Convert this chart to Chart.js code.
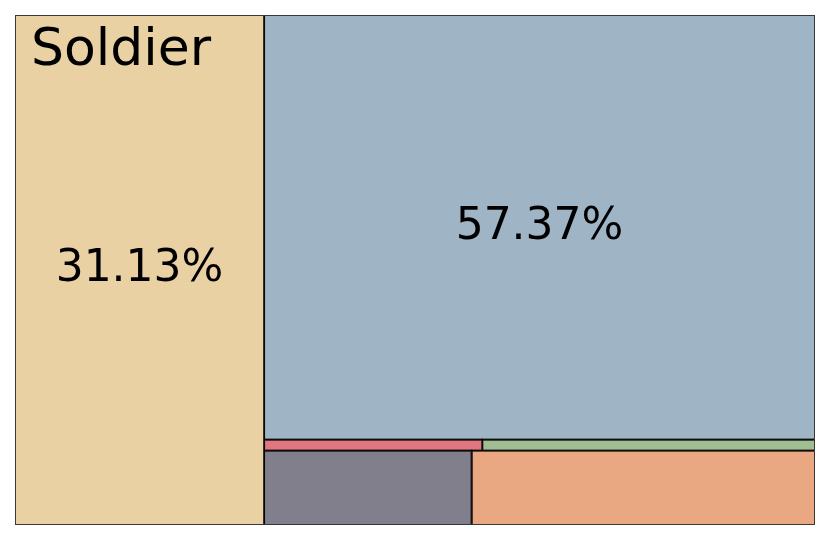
<!DOCTYPE html>
<html>
<head>
<meta charset="utf-8">
<script src="https://cdn.jsdelivr.net/npm/chart.js@4.4.1/dist/chart.umd.min.js"></script>
<style>
  html, body { margin: 0; padding: 0; background: #fff; }
  #wrap { width: 830px; height: 540px; }
</style>
</head>
<body>
<div id="wrap"><canvas id="treemap" width="830" height="540"></canvas></div>
<script>
// treemap data, in the order it was laid out
const categories = ['Soldier', '', '', '', '', ''];
const shares = [31.13, 3.77, 6.24, 0.59, 0.90, 57.37];
const colors = ['#E9D1A3', '#817F8C', '#E9A782', '#E07680', '#A0BE91', '#9FB4C4'];

// squarify layout in a 100 x 100 data space (same steps as python squarify)
function layoutRow(sizes, x, y, dx, dy) {
  const width = sizes.reduce((a, b) => a + b, 0) / dy;
  return sizes.map(s => { const r = { x: x, y: y, dx: width, dy: s / width }; y += s / width; return r; });
}
function layoutCol(sizes, x, y, dx, dy) {
  const height = sizes.reduce((a, b) => a + b, 0) / dx;
  return sizes.map(s => { const r = { x: x, y: y, dx: s / height, dy: height }; x += s / height; return r; });
}
function layout(sizes, x, y, dx, dy) {
  return dx >= dy ? layoutRow(sizes, x, y, dx, dy) : layoutCol(sizes, x, y, dx, dy);
}
function leftover(sizes, x, y, dx, dy) {
  const area = sizes.reduce((a, b) => a + b, 0);
  if (dx >= dy) { const w = area / dy; return [x + w, y, dx - w, dy]; }
  const h = area / dx;
  return [x, y + h, dx, dy - h];
}
function worstRatio(sizes, x, y, dx, dy) {
  return Math.max(...layout(sizes, x, y, dx, dy).map(r => Math.max(r.dx / r.dy, r.dy / r.dx)));
}
function squarify(sizes, x, y, dx, dy) {
  if (sizes.length === 0) return [];
  if (sizes.length === 1) return layout(sizes, x, y, dx, dy);
  let i = 1;
  while (i < sizes.length && worstRatio(sizes.slice(0, i), x, y, dx, dy) >= worstRatio(sizes.slice(0, i + 1), x, y, dx, dy)) i++;
  const current = sizes.slice(0, i);
  const rest = leftover(current, x, y, dx, dy);
  return layout(current, x, y, dx, dy).concat(squarify(sizes.slice(i), rest[0], rest[1], rest[2], rest[3]));
}

const total = shares.reduce((a, b) => a + b, 0);
const rects = squarify(shares.map(v => v * 10000 / total), 0, 0, 100, 100);

const datasets = rects.map((r, i) => ({
  label: categories[i],
  data: [
    { x: r.x, y: r.y }, { x: r.x + r.dx, y: r.y },
    { x: r.x + r.dx, y: r.y + r.dy }, { x: r.x, y: r.y + r.dy }, { x: r.x, y: r.y }
  ],
  showLine: true,
  fill: 'shape',
  backgroundColor: colors[i],
  borderColor: 'rgba(0,0,0,0.8)',
  borderWidth: 2,
  pointRadius: 0,
  tension: 0
}));

// frame + cell labels
const cellLabels = {
  id: 'cellLabels',
  afterDatasetsDraw(chart) {
    const { ctx, chartArea, scales: { x, y } } = chart;
    ctx.save();
    ctx.strokeStyle = 'rgba(60,60,60,0.85)';
    ctx.lineWidth = 1;
    ctx.strokeRect(chartArea.left + 0.5, chartArea.top + 0.5, chartArea.width - 1, chartArea.height - 1);
    ctx.fillStyle = '#000';
    rects.forEach((r, i) => {
      const left = x.getPixelForValue(r.x);
      const top = y.getPixelForValue(r.y + r.dy);
      if (categories[i]) {
        ctx.font = '52px "DejaVu Sans"';
        ctx.textAlign = 'left';
        ctx.textBaseline = 'alphabetic';
        ctx.fillText(categories[i], left + 16, top + 50);
      }
      if (shares[i] > 20) {
        ctx.font = '44px "DejaVu Sans"';
        ctx.textAlign = 'center';
        ctx.textBaseline = 'middle';
        ctx.fillText(shares[i].toFixed(2) + '%',
          x.getPixelForValue(r.x + r.dx / 2), y.getPixelForValue(r.y + r.dy / 2));
      }
    });
    ctx.restore();
  }
};

new Chart(document.getElementById('treemap'), {
  type: 'scatter',
  data: { datasets },
  options: {
    responsive: false,
    animation: false,
    layout: { padding: { left: 15, right: 15, top: 15, bottom: 15 } },
    scales: {
      x: { type: 'linear', min: 0, max: 100, display: false },
      y: { type: 'linear', min: 0, max: 100, display: false }
    },
    plugins: { legend: { display: false }, tooltip: { enabled: false } }
  },
  plugins: [cellLabels]
});
</script>
</body>
</html>
